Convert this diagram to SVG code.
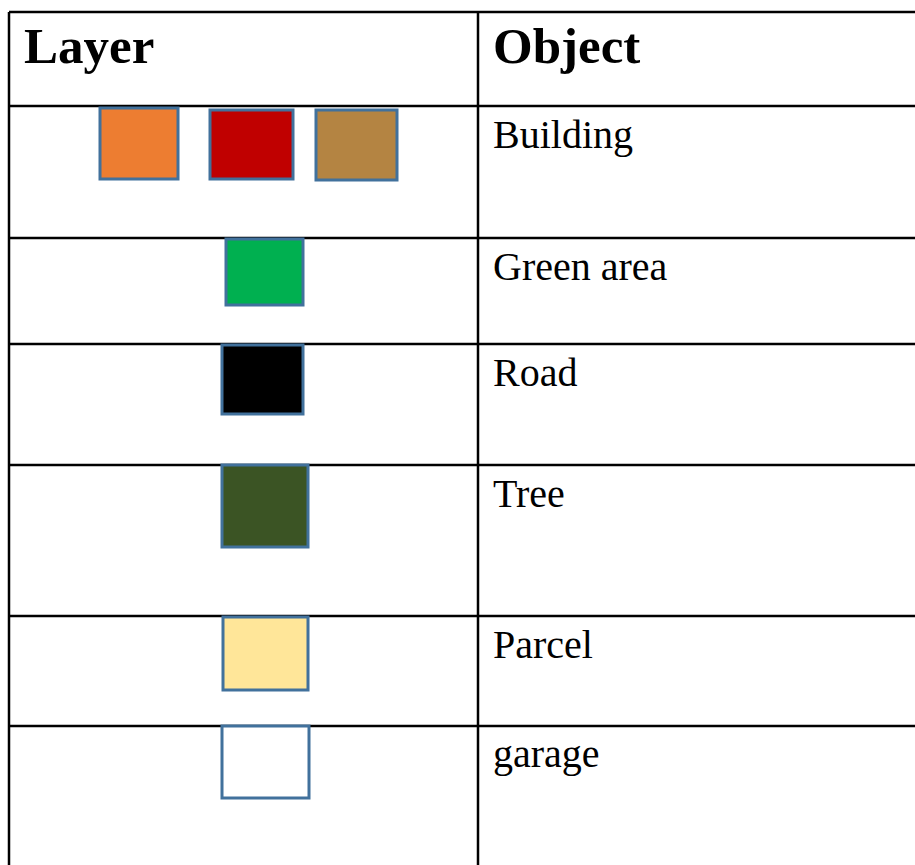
<svg xmlns="http://www.w3.org/2000/svg" width="915" height="865" viewBox="0 0 915 865">
  <style>
    .rule { stroke: #000; stroke-width: 2.5; fill: none; }
    .swatch { stroke: #41719c; stroke-width: 3; }
    .head { font-family: "Liberation Serif", "Times New Roman", serif; font-weight: bold; font-size: 51px; fill: #000; }
    .cell { font-family: "Liberation Serif", "Times New Roman", serif; font-size: 40px; fill: #000; }
  </style>
  <rect width="915" height="865" fill="#fff"/>

  <!-- table grid -->
  <g id="grid">
    <line class="rule" x1="9" y1="12" x2="915" y2="12"/>
    <line class="rule" x1="9" y1="12" x2="9" y2="865"/>
    <line class="rule" x1="478" y1="12" x2="478" y2="865"/>
    <line class="rule" x1="9" y1="106" x2="915" y2="106"/>
    <line class="rule" x1="9" y1="238" x2="915" y2="238"/>
    <line class="rule" x1="9" y1="344" x2="915" y2="344"/>
    <line class="rule" x1="9" y1="465" x2="915" y2="465"/>
    <line class="rule" x1="9" y1="616" x2="915" y2="616"/>
    <line class="rule" x1="9" y1="726" x2="915" y2="726"/>
  </g>

  <!-- header -->
  <g id="header">
    <text class="head" x="24" y="63">Layer</text>
    <text class="head" x="493" y="63">Object</text>
  </g>

  <!-- rows: colour swatch + object name -->
  <g id="row-building">
    <rect class="swatch" x="100" y="108" width="78" height="71" fill="#ed7d31"/>
    <rect class="swatch" x="210" y="110" width="83" height="69" fill="#c00000"/>
    <rect class="swatch" x="316" y="110" width="81" height="70" fill="#b48442"/>
    <text class="cell" x="493" y="148">Building</text>
  </g>
  <g id="row-green-area">
    <rect class="swatch" x="226" y="239" width="77" height="66" fill="#00b050"/>
    <text class="cell" x="493" y="280">Green area</text>
  </g>
  <g id="row-road">
    <rect class="swatch" x="222" y="345" width="81" height="69" fill="#000"/>
    <text class="cell" x="493" y="386">Road</text>
  </g>
  <g id="row-tree">
    <rect class="swatch" x="222" y="465" width="86" height="82" fill="#3b5424"/>
    <text class="cell" x="493" y="507">Tree</text>
  </g>
  <g id="row-parcel">
    <rect class="swatch" x="223" y="617" width="85" height="73" fill="#ffe699"/>
    <text class="cell" x="493" y="658">Parcel</text>
  </g>
  <g id="row-garage">
    <rect class="swatch" x="222" y="726" width="87" height="72" fill="#fff"/>
    <text class="cell" x="493" y="767">garage</text>
  </g>
</svg>
